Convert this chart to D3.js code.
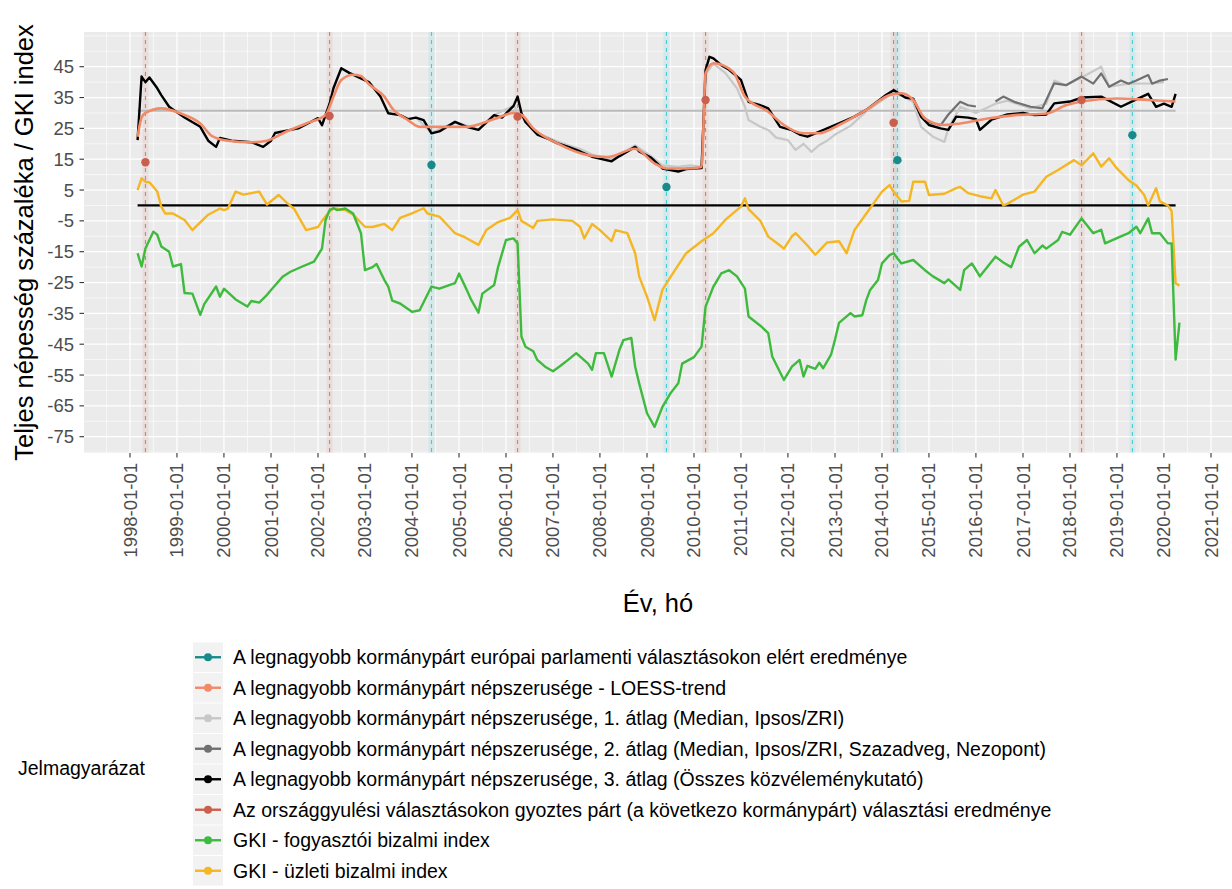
<!DOCTYPE html>
<html>
<head>
<meta charset="utf-8">
<script src="https://cdn.jsdelivr.net/npm/d3@7"></script>
<style>
body { margin: 0; background: #fff; }
svg { display: block; font-family: "Liberation Sans", Arial, sans-serif; }
</style>
</head>
<body>
<div id="chart"></div>
<script>
// ---- data (month, value) ----
var gkiConsumer = [["1998-03",-15.5],["1998-04",-19.8],["1998-05",-14],["1998-07",-8.5],["1998-08",-9.5],["1998-09",-13.3],["1998-11",-15],["1998-12",-19.8],["1999-02",-19],["1999-03",-28.4],["1999-05",-28.6],["1999-07",-35.5],["1999-08",-32],["1999-11",-26.3],["1999-12",-29.6],["2000-01",-27],["2000-04",-30.5],["2000-07",-32.8],["2000-08",-31],["2000-10",-31.5],["2000-12",-29],["2001-01",-27.4],["2001-04",-23.1],["2001-06",-21.5],["2001-09",-19.8],["2001-12",-18.2],["2002-02",-14],["2002-03",-4.7],["2002-04",-1.5],["2002-05",-0.9],["2002-06",-1.5],["2002-08",-1],["2002-10",-2.6],["2002-12",-9],["2003-01",-21],["2003-03",-20],["2003-04",-19],["2003-06",-24.2],["2003-07",-26.3],["2003-08",-30.9],["2003-10",-31.8],["2004-01",-34.5],["2004-03",-34],["2004-06",-26.3],["2004-08",-27],["2004-12",-25.2],["2005-01",-22.1],["2005-03",-27.3],["2005-04",-30.2],["2005-06",-34.8],["2005-07",-28.6],["2005-10",-25.8],["2005-11",-19.9],["2006-01",-11.2],["2006-03",-10.7],["2006-04",-12.3],["2006-05",-42.5],["2006-06",-45.8],["2006-08",-47.3],["2006-09",-50.1],["2006-11",-52.3],["2007-01",-53.8],["2007-03",-52],["2007-05",-50],["2007-07",-47.9],["2007-10",-51.3],["2007-11",-53.3],["2007-12",-47.9],["2008-02",-47.9],["2008-04",-55.5],["2008-06",-46.8],["2008-07",-43.7],["2008-09",-43],["2008-10",-52.3],["2008-11",-57.7],["2009-01",-67.4],["2009-03",-71.8],["2009-05",-65.3],["2009-07",-61],["2009-09",-57.7],["2009-10",-51.3],["2010-01",-49.2],["2010-03",-45.8],["2010-04",-32.8],["2010-06",-26.3],["2010-07",-24.2],["2010-08",-22],["2010-10",-21],["2010-12",-23],["2011-02",-27],["2011-03",-36],["2011-06",-39],["2011-08",-41.4],["2011-09",-49],["2011-12",-56.6],["2012-02",-52.3],["2012-04",-50.1],["2012-05",-55.5],["2012-06",-52],["2012-08",-53],["2012-09",-51],["2012-10",-52.8],["2012-12",-48.4],["2013-01",-43.5],["2013-02",-38.1],["2013-05",-34.9],["2013-06",-36],["2013-08",-35.6],["2013-09",-30.7],["2013-10",-27.4],["2013-12",-24.2],["2014-01",-18.8],["2014-03",-16.1],["2014-04",-15.5],["2014-06",-18.8],["2014-09",-17.7],["2014-12",-21],["2015-02",-23],["2015-05",-25.2],["2015-06",-24],["2015-09",-27.4],["2015-10",-21],["2015-12",-18.8],["2016-02",-23],["2016-06",-16.6],["2016-08",-18.5],["2016-10",-20],["2016-12",-13.4],["2017-02",-11.2],["2017-04",-15.5],["2017-06",-13],["2017-07",-14],["2017-10",-11.2],["2017-11",-8.6],["2018-01",-9.5],["2018-04",-4.2],["2018-05",-5.8],["2018-07",-9],["2018-09",-7.9],["2018-10",-12.3],["2019-02",-10],["2019-04",-9],["2019-06",-6.9],["2019-07",-9],["2019-09",-4.2],["2019-10",-9],["2019-12",-9],["2020-02",-12.3],["2020-03",-12.3],["2020-04",-50],["2020-05",-38]];

var gkiBusiness = [["1998-03",5],["1998-04",8.8],["1998-05",7.7],["1998-06",7.5],["1998-08",4.5],["1998-09",-0.4],["1998-10",-2.6],["1998-12",-2.6],["1999-03",-4.7],["1999-05",-8],["1999-07",-5.5],["1999-09",-3],["1999-12",-1],["2000-01",-1.5],["2000-02",-1],["2000-04",4.5],["2000-06",3.5],["2000-08",4],["2000-10",4.5],["2000-12",0.3],["2001-03",3.4],["2001-05",1],["2001-07",-1.2],["2001-10",-8],["2002-01",-7],["2002-02",-5],["2002-04",-2],["2002-05",-0.9],["2002-08",-1.5],["2002-10",-3],["2003-01",-6.9],["2003-03",-7],["2003-06",-6],["2003-08",-8],["2003-10",-4],["2004-01",-2.6],["2004-04",-0.9],["2004-05",-2.6],["2004-08",-3.6],["2004-12",-9],["2005-02",-10],["2005-06",-12.8],["2005-08",-8],["2005-11",-5.4],["2006-02",-4],["2006-04",-1.5],["2006-05",-5],["2006-08",-7.3],["2006-09",-5],["2007-01",-4.5],["2007-06",-5],["2007-08",-7],["2007-09",-10.7],["2007-11",-6],["2008-01",-8],["2008-04",-11.6],["2008-05",-8],["2008-08",-9],["2008-10",-15.5],["2008-11",-23],["2009-01",-29.6],["2009-03",-37.2],["2009-05",-27.3],["2009-08",-21.3],["2009-11",-15.5],["2010-03",-11.6],["2010-06",-9],["2010-09",-4.7],["2011-01",-0.4],["2011-02",2.3],["2011-03",-1.2],["2011-06",-5],["2011-08",-10.1],["2011-11",-13],["2011-12",-14],["2012-02",-10],["2012-03",-9],["2012-06",-13],["2012-08",-16],["2012-11",-12],["2013-02",-11.6],["2013-04",-15.5],["2013-06",-8],["2013-10",-0.9],["2014-01",4.5],["2014-03",6.6],["2014-04",4.5],["2014-06",1.3],["2014-08",1.5],["2014-09",7.7],["2014-12",7.7],["2015-01",3.4],["2015-05",3.8],["2015-08",5.6],["2015-09",6],["2015-11",4],["2016-02",3],["2016-05",2.3],["2016-06",5],["2016-08",0],["2016-09",0.5],["2017-01",3.5],["2017-04",4.5],["2017-07",9.3],["2017-10",11.5],["2018-02",14.7],["2018-04",13],["2018-07",16.9],["2018-09",12.6],["2018-11",15.3],["2019-01",12],["2019-04",8.2],["2019-06",6.5],["2019-08",3.4],["2019-09",0],["2019-11",5.6],["2019-12",1.3],["2020-02",0],["2020-03",-1.8],["2020-04",-25.2],["2020-05",-26]];

// 3. átlag (all pollsters)
var popAvg3 = [["1998-03",21.2],["1998-04",41.8],["1998-05",40],["1998-06",41.5],["1998-08",38],["1998-09",35.8],["1998-11",32],["1999-02",29.3],["1999-03",28.5],["1999-07",25.5],["1999-09",21],["1999-11",19],["1999-12",21.9],["2000-03",21],["2000-08",20.5],["2000-11",19],["2001-01",21],["2001-02",23.5],["2001-06",24.5],["2001-08",25],["2001-11",27],["2002-01",28.3],["2002-02",26],["2002-03",29.4],["2002-04",33],["2002-05",38],["2002-07",44.5],["2002-09",43],["2002-11",41.8],["2003-02",40],["2003-05",35.3],["2003-07",29.9],["2003-10",29.3],["2003-12",28],["2004-02",28.5],["2004-04",27.7],["2004-06",23.4],["2004-08",24],["2004-12",27.1],["2005-03",25.5],["2005-06",24.5],["2005-10",29.3],["2005-12",28.5],["2006-03",32.3],["2006-04",35.3],["2006-05",30],["2006-06",27.1],["2006-09",23],["2006-12",21.5],["2007-02",20.2],["2007-05",19],["2007-08",17.5],["2007-11",15.8],["2008-04",14.3],["2008-06",16],["2008-10",19],["2008-11",17.5],["2009-02",15.5],["2009-05",12],["2009-09",11],["2009-11",11.8],["2010-03",12.1],["2010-04",43.9],["2010-05",48.2],["2010-06",47.7],["2010-08",45.5],["2010-10",44],["2011-01",40.7],["2011-03",33.6],["2011-06",32.5],["2011-08",31.5],["2011-11",25.5],["2012-02",24.4],["2012-04",23],["2012-06",22.3],["2012-08",23.4],["2012-11",25],["2013-04",27.7],["2013-06",28.8],["2013-09",31],["2014-02",35.8],["2014-04",37.4],["2014-07",35],["2014-09",34.6],["2014-11",28.8],["2015-01",26.1],["2015-04",25],["2015-06",24.5],["2015-08",28.8],["2015-11",28.5],["2016-01",28],["2016-02",24.5],["2016-05",27.8],["2016-09",29.5],["2017-01",30],["2017-04",29.3],["2017-07",29.5],["2017-09",33.1],["2018-01",33.7],["2018-04",35],["2018-09",35.3],["2018-11",34],["2019-02",32],["2019-06",34.4],["2019-09",36.2],["2019-11",32],["2020-01",33],["2020-03",32],["2020-04",36.2]];

// 2. átlag (Median, Ipsos/ZRI, Szazadveg, Nezopont)
var popAvg2 = [["2014-09",34.6],["2014-11",29.5],["2015-01",27],["2015-04",26],["2015-06",29.5],["2015-09",33.6],["2015-11",32.5],["2016-01",32.1],["2016-02",null],["2016-06",33.7],["2016-08",35.3],["2016-11",33.5],["2017-03",32],["2017-06",31.5],["2017-08",37],["2017-09",39.6],["2017-12",39],["2018-04",41.8],["2018-07",39.5],["2018-09",42.8],["2018-11",38.5],["2019-02",40.5],["2019-04",39.5],["2019-06",40.5],["2019-09",42.3],["2019-10",39.5],["2019-12",40.5],["2020-02",41]];

// 1. átlag (Median, Ipsos/ZRI)
var popAvg1 = [["2004-02",28.5],["2004-06",23.6],["2004-12",27.1],["2005-06",24.7],["2005-10",29.3],["2006-03",32.3],["2006-06",27.3],["2006-09",23.5],["2007-02",20.8],["2007-05",19.5],["2007-08",18.3],["2007-11",16.5],["2008-04",15],["2008-06",16.5],["2008-10",19.5],["2009-02",16],["2009-05",13],["2009-09",12.5],["2009-12",13],["2010-03",12.5],["2010-04",42.5],["2010-06",46],["2010-09",43],["2010-12",38],["2011-02",32],["2011-03",27.7],["2011-06",25.5],["2011-08",24.5],["2011-10",22],["2012-01",21.2],["2012-03",18],["2012-05",20],["2012-07",17.4],["2012-09",19.6],["2012-11",21],["2013-01",23],["2013-05",25.8],["2013-09",30.5],["2014-02",35],["2014-04",36.5],["2014-07",35],["2014-09",33.5],["2014-11",25.5],["2015-02",22.3],["2015-05",20.6],["2015-06",25],["2015-09",32],["2016-01",30],["2016-06",33],["2016-09",34],["2017-03",31.5],["2017-07",33],["2017-09",40.5],["2017-12",39],["2018-04",41.5],["2018-09",45],["2018-11",38.5],["2019-04",39.5],["2019-10",39.6],["2020-01",40]];

var popTrend = [["1998-03",22.3],["1998-04",28.5],["1998-05",30],["1998-09",31.5],["1999-02",29.8],["1999-07",26.6],["1999-10",22.5],["2000-02",21],["2000-08",20.5],["2000-12",21],["2001-05",24],["2001-10",26.6],["2002-03",29.3],["2002-05",35.3],["2002-07",40.7],["2002-10",42.4],["2002-12",42],["2003-02",39.3],["2003-06",35.3],["2003-08",31.5],["2003-12",27.7],["2004-03",25.5],["2004-06",25.5],["2005-03",25.5],["2005-10",28],["2006-03",30],["2006-05",29.4],["2006-08",25],["2007-02",20.2],["2007-10",16.3],["2008-03",15.7],["2008-10",18.4],["2009-03",13.6],["2009-06",12],["2009-11",12],["2010-03",12.5],["2010-04",42.8],["2010-06",46.1],["2010-11",43.4],["2011-02",35.3],["2011-08",30.4],["2011-12",26.1],["2012-05",23.4],["2012-09",23.4],["2013-02",26.1],["2013-09",31],["2014-03",35.8],["2014-06",36.4],["2014-09",34.2],["2014-12",28.2],["2015-05",26.1],["2015-09",26.6],["2016-04",28.2],["2016-11",29.3],["2017-07",29.8],["2017-12",32.5],["2018-04",33.7],["2019-01",34.7],["2019-09",34.2],["2020-04",33.7]];

var parlElections = ["1998-05","2002-04","2006-04","2010-04","2014-04","2018-04"];
var parlResults = [14.0, 29.0, 28.8, 34.2, 26.8, 34.2];
var epElections = ["2004-06","2009-06","2014-05","2019-05"];
var epResults = [13.1, 6.0, 14.7, 22.8];

var popMean = 30.7;

var legendLabels = [
  "A legnagyobb kormánypárt európai parlamenti választásokon elért eredménye",
  "A legnagyobb kormánypárt népszerusége - LOESS-trend",
  "A legnagyobb kormánypárt népszerusége, 1. átlag (Median, Ipsos/ZRI)",
  "A legnagyobb kormánypárt népszerusége, 2. átlag (Median, Ipsos/ZRI, Szazadveg, Nezopont)",
  "A legnagyobb kormánypárt népszerusége, 3. átlag (Összes közvéleménykutató)",
  "Az országgyulési választásokon gyoztes párt (a következo kormánypárt) választási eredménye",
  "GKI - fogyasztói bizalmi index",
  "GKI - üzleti bizalmi index"
];
var legendColors = ["#178b8b", "#f28a68", "#c8c8c8", "#707070", "#000000", "#cb5f4d", "#3ebb3e", "#f5b623"];

// ---- layout ----
var width = 1232, height = 889;
var panel = {left: 84, right: 1232, top: 32, bottom: 453};

var parseM = d3.utcParse("%Y-%m");
var fmt = d3.utcFormat("%Y-%m-%d");

var svg = d3.select("#chart").append("svg")
  .attr("width", width)
  .attr("height", height);

var x = d3.scaleUtc()
  .domain([new Date(Date.UTC(1998, 0, 1)), new Date(Date.UTC(2021, 0, 1))])
  .range([130, 1211]);
var y = d3.scaleLinear()
  .domain([-75, 45])
  .range([436.7, 66.7]);

// panel background
svg.append("rect")
  .attr("x", panel.left).attr("y", panel.top)
  .attr("width", panel.right - panel.left).attr("height", panel.bottom - panel.top)
  .attr("fill", "#ebebeb");

svg.append("clipPath").attr("id", "clip")
  .append("rect")
  .attr("x", panel.left).attr("y", panel.top)
  .attr("width", panel.right - panel.left).attr("height", panel.bottom - panel.top);

var grid = svg.append("g");
var yMajor = d3.range(-75, 46, 10);
var yMinor = d3.range(-80, 51, 10).concat([55]);
var xMajor = d3.utcYears(new Date(Date.UTC(1998, 0, 1)), new Date(Date.UTC(2021, 0, 2)));
var xMinor = d3.range(1997, 2021).map(function(yr) { return new Date(Date.UTC(yr, 6, 2)); });

grid.selectAll(".ymin").data(yMinor).enter().append("line")
  .attr("x1", panel.left).attr("x2", panel.right)
  .attr("y1", function(d) { return y(d); }).attr("y2", function(d) { return y(d); })
  .attr("stroke", "#fff").attr("stroke-width", 0.6);
grid.selectAll(".xmin").data(xMinor).enter().append("line")
  .attr("y1", panel.top).attr("y2", panel.bottom)
  .attr("x1", function(d) { return x(d); }).attr("x2", function(d) { return x(d); })
  .attr("stroke", "#fff").attr("stroke-width", 0.6);
grid.selectAll(".ymaj").data(yMajor).enter().append("line")
  .attr("x1", panel.left).attr("x2", panel.right)
  .attr("y1", function(d) { return y(d); }).attr("y2", function(d) { return y(d); })
  .attr("stroke", "#fff").attr("stroke-width", 1.2);
grid.selectAll(".xmaj").data(xMajor).enter().append("line")
  .attr("y1", panel.top).attr("y2", panel.bottom)
  .attr("x1", function(d) { return x(d); }).attr("x2", function(d) { return x(d); })
  .attr("stroke", "#fff").attr("stroke-width", 1.2);

var plot = svg.append("g").attr("clip-path", "url(#clip)");

// election vertical lines
function vlines(dates, col) {
  dates.forEach(function(d) {
    var xx = x(parseM(d));
    plot.append("line")
      .attr("x1", xx).attr("x2", xx).attr("y1", panel.top).attr("y2", panel.bottom)
      .attr("stroke", col).attr("stroke-opacity", 0.13).attr("stroke-width", 6);
    plot.append("line")
      .attr("x1", xx).attr("x2", xx).attr("y1", panel.top).attr("y2", panel.bottom)
      .attr("stroke", col).attr("stroke-width", 1.1).attr("stroke-dasharray", "4,4");
  });
}
vlines(parlElections, "#d9806d");
vlines(epElections, "#45cdd6");

// reference lines
var firstDate = parseM(popAvg3[0][0]);
var lastDate = parseM(popAvg3[popAvg3.length - 1][0]);
plot.append("line")
  .attr("x1", x(firstDate)).attr("x2", x(lastDate))
  .attr("y1", y(popMean)).attr("y2", y(popMean))
  .attr("stroke", "#bbbbbb").attr("stroke-width", 2);

var line = d3.line()
  .defined(function(d) { return d[1] != null; })
  .x(function(d) { return x(parseM(d[0])); })
  .y(function(d) { return y(d[1]); });

function drawSeries(data, col, w, curve) {
  var gen = curve ? line.curve(curve) : line.curve(d3.curveLinear);
  plot.append("path")
    .datum(data)
    .attr("fill", "none")
    .attr("stroke", col)
    .attr("stroke-width", w)
    .attr("stroke-linejoin", "round")
    .attr("d", gen);
}

drawSeries(popAvg1, "#c8c8c8", 2.2);
drawSeries(popAvg2, "#707070", 2.2);
drawSeries(popAvg3, "#000000", 2.4);
drawSeries(popTrend, "#f28a68", 2.6, d3.curveMonotoneX);

plot.append("line")
  .attr("x1", x(firstDate)).attr("x2", x(lastDate))
  .attr("y1", y(0)).attr("y2", y(0))
  .attr("stroke", "#000").attr("stroke-width", 2.2);

drawSeries(gkiBusiness, "#f5b623", 2.4);
drawSeries(gkiConsumer, "#3ebb3e", 2.4);

// election result points
plot.selectAll(".parl").data(parlElections).enter().append("circle")
  .attr("cx", function(d) { return x(parseM(d)); })
  .attr("cy", function(d, i) { return y(parlResults[i]); })
  .attr("r", 4.2).attr("fill", "#cb5f4d");
plot.selectAll(".ep").data(epElections).enter().append("circle")
  .attr("cx", function(d) { return x(parseM(d)); })
  .attr("cy", function(d, i) { return y(epResults[i]); })
  .attr("r", 4.2).attr("fill", "#178b8b");

// axes
var tickSize = 18.5;
var yAxis = svg.append("g");
yMajor.forEach(function(v) {
  yAxis.append("line")
    .attr("x1", panel.left - 4.5).attr("x2", panel.left)
    .attr("y1", y(v)).attr("y2", y(v))
    .attr("stroke", "#333").attr("stroke-width", 1.1);
  yAxis.append("text")
    .attr("x", panel.left - 10).attr("y", y(v))
    .attr("text-anchor", "end").attr("dominant-baseline", "central")
    .attr("fill", "#4d4d4d").attr("font-size", tickSize)
    .text(v);
});

var xAxis = svg.append("g");
xMajor.forEach(function(d) {
  var xx = x(d);
  xAxis.append("line")
    .attr("x1", xx).attr("x2", xx)
    .attr("y1", panel.bottom).attr("y2", panel.bottom + 4.5)
    .attr("stroke", "#333").attr("stroke-width", 1.1);
  xAxis.append("text")
    .attr("transform", "translate(" + xx + "," + (panel.bottom + 10) + ") rotate(-90)")
    .attr("text-anchor", "end").attr("dominant-baseline", "central")
    .attr("fill", "#4d4d4d").attr("font-size", tickSize)
    .text(fmt(d));
});

// axis titles
svg.append("text")
  .attr("transform", "translate(33," + ((panel.top + panel.bottom) / 2) + ") rotate(-90)")
  .attr("text-anchor", "middle")
  .attr("font-size", 25.5)
  .attr("fill", "#000")
  .text("Teljes népesség százaléka / GKI index");

svg.append("text")
  .attr("x", (panel.left + panel.right) / 2).attr("y", 612)
  .attr("text-anchor", "middle")
  .attr("font-size", 25.5)
  .attr("fill", "#000")
  .text("Év, hó");

// legend
var rowH = 30.5, legTop = 642;
var legend = svg.append("g");
legend.append("text")
  .attr("x", 18).attr("y", legTop + rowH * legendLabels.length / 2 + 4)
  .attr("dominant-baseline", "central")
  .attr("font-size", 19.5).attr("fill", "#000")
  .text("Jelmagyarázat");

legendLabels.forEach(function(lab, i) {
  var cy = legTop + rowH * i + rowH / 2;
  legend.append("rect")
    .attr("x", 193).attr("y", cy - rowH / 2 + 0.5)
    .attr("width", 30).attr("height", rowH - 1)
    .attr("fill", "#f2f2f2");
  legend.append("line")
    .attr("x1", 195).attr("x2", 221).attr("y1", cy).attr("y2", cy)
    .attr("stroke", legendColors[i]).attr("stroke-width", 2.4);
  legend.append("circle")
    .attr("cx", 208).attr("cy", cy).attr("r", 4)
    .attr("fill", legendColors[i]);
  legend.append("text")
    .attr("x", 233).attr("y", cy)
    .attr("dominant-baseline", "central")
    .attr("font-size", 19.5).attr("fill", "#000")
    .text(lab);
});
</script>
</body>
</html>
